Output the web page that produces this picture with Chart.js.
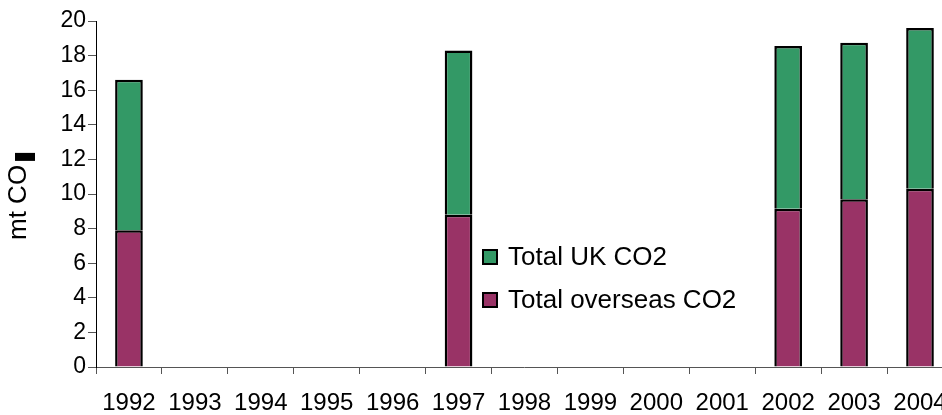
<!DOCTYPE html>
<html>
<head>
<meta charset="utf-8">
<script src="https://cdn.jsdelivr.net/npm/chart.js@4/dist/chart.umd.min.js"></script>
<style>
  html, body { margin: 0; padding: 0; background: #fff; overflow: hidden; }
  #wrap { position: relative; width: 962px; height: 415px; }
</style>
</head>
<body>
<div id="wrap"><canvas id="c"></canvas></div>
<script>
// Years on the category axis
const years = ['1992', '1993', '1994', '1995', '1996', '1997', '1998', '1999', '2000', '2001', '2002', '2003', '2004'];
// Emissions (mt CO2) attributed overseas, stacked at the bottom
const overseasCO2 = [7.9, null, null, null, null, 8.8, null, null, null, null, 9.15, 9.7, 10.3];
// Emissions (mt CO2) within the UK, stacked on top
const ukCO2 = [8.7, null, null, null, null, 9.5, null, null, null, null, 9.4, 9.05, 9.3];
// Value axis tick range
const yMin = 0, yMax = 20, yStep = 2;

const FONT = '"Liberation Sans", Arial, sans-serif';

// Rotated axis title "mt CO" followed by a solid block where the subscript sits
const yTitlePlugin = {
  id: 'yTitle',
  afterDraw(chart) {
    const ctx = chart.ctx;
    ctx.save();
    ctx.font = '26px ' + FONT;
    ctx.fillStyle = '#000';
    ctx.textAlign = 'left';
    ctx.textBaseline = 'alphabetic';
    ctx.translate(26, 240);
    ctx.rotate(-Math.PI / 2);
    const text = 'mt CO';
    ctx.fillText(text, 0, 0);
    const w = ctx.measureText(text).width;
    ctx.fillRect(w + 4, -11, 8, 20);
    ctx.restore();
  }
};

// Legend drawn inside the plot, top series listed first
const innerLegendPlugin = {
  id: 'innerLegend',
  afterDraw(chart) {
    const ctx = chart.ctx;
    const sets = chart.data.datasets.slice().reverse();
    const x = 483, y0 = 257, gap = 43, box = 14;
    ctx.save();
    ctx.font = '26px ' + FONT;
    ctx.textBaseline = 'middle';
    ctx.textAlign = 'left';
    sets.forEach((ds, i) => {
      const cy = y0 + i * gap;
      ctx.fillStyle = ds.backgroundColor;
      ctx.fillRect(x, cy - box / 2, box, box);
      ctx.lineWidth = 2;
      ctx.strokeStyle = '#000';
      ctx.strokeRect(x, cy - box / 2, box, box);
      ctx.fillStyle = '#000';
      ctx.fillText(ds.label, x + 25, cy + 1);
    });
    ctx.restore();
  }
};

new Chart(document.getElementById('c'), {
  type: 'bar',
  data: {
    labels: years,
    datasets: [
      {
        label: 'Total overseas CO2',
        data: overseasCO2,
        backgroundColor: '#993366',
        borderColor: '#000',
        borderWidth: 2.5
      },
      {
        label: 'Total UK CO2',
        data: ukCO2,
        backgroundColor: '#339966',
        borderColor: '#000',
        borderWidth: 2.5
      }
    ]
  },
  options: {
    responsive: true,
    maintainAspectRatio: false,
    animation: false,
    layout: { padding: { left: 0, right: 8, top: 21, bottom: 0 } },
    datasets: { bar: { barPercentage: 0.42, categoryPercentage: 1.0 } },
    plugins: {
      legend: { display: false },
      tooltip: { enabled: false }
    },
    scales: {
      x: {
        stacked: true,
        offset: true,
        grid: {
          offset: true,
          drawOnChartArea: false,
          drawTicks: true,
          tickLength: 7,
          color: '#555',
          tickColor: '#555'
        },
        border: { color: '#555', width: 1 },
        ticks: {
          color: '#000',
          font: { family: FONT, size: 24 },
          padding: 15,
          maxRotation: 0,
          autoSkip: false
        },
        afterFit(scale) { scale.height = 48; }
      },
      y: {
        stacked: true,
        min: yMin,
        max: yMax,
        grid: {
          drawOnChartArea: false,
          drawTicks: true,
          tickLength: 8,
          color: '#555',
          tickColor: '#555'
        },
        border: { color: '#000', width: 1 },
        ticks: {
          stepSize: yStep,
          color: '#000',
          font: { family: FONT, size: 23 },
          padding: 2
        },
        afterFit(scale) { scale.width = 96; }
      }
    }
  },
  plugins: [yTitlePlugin, innerLegendPlugin]
});
</script>
</body>
</html>
